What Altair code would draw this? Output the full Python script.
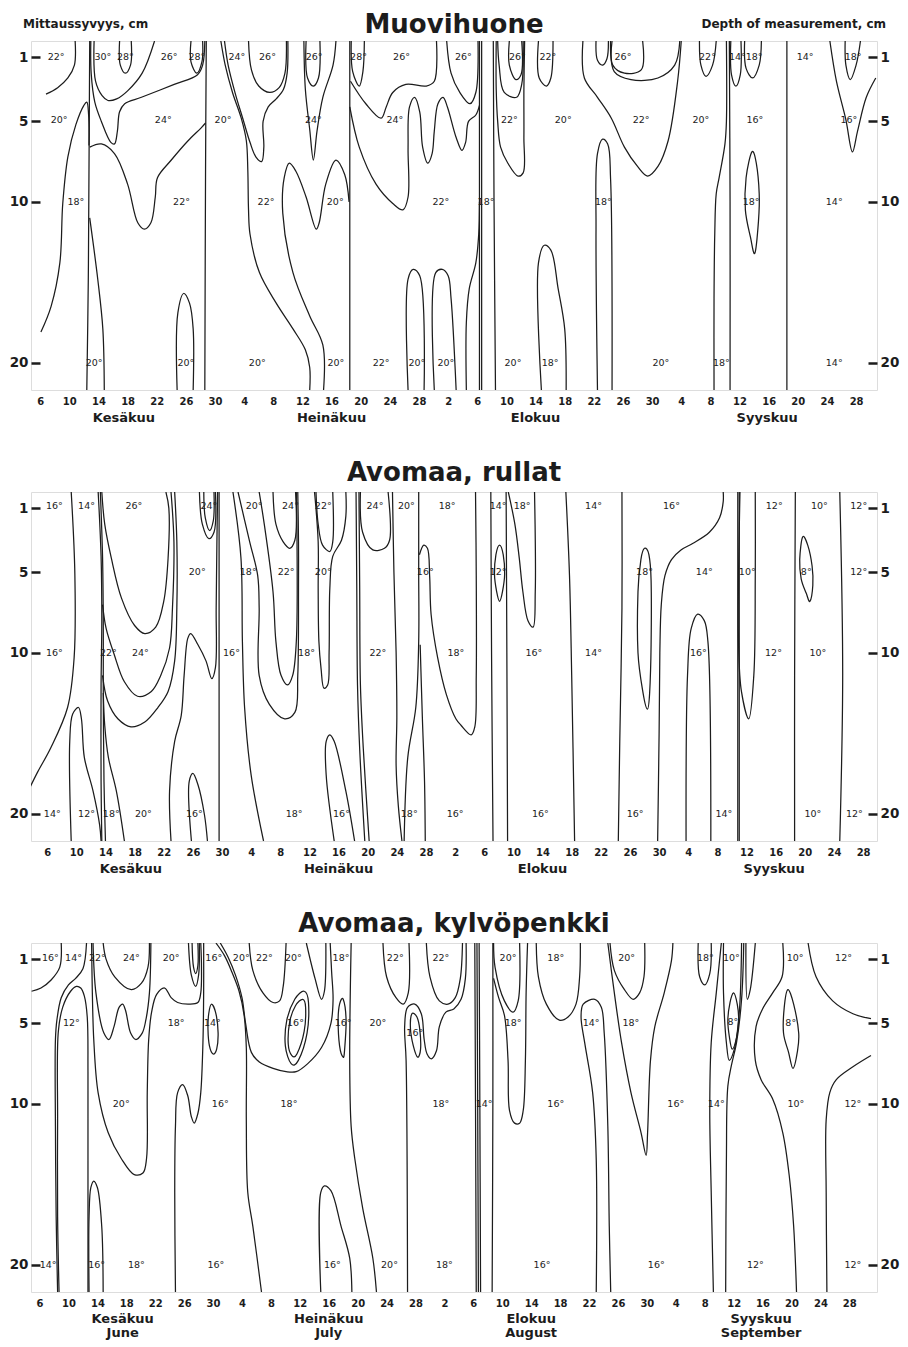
import altair as alt
import pandas as pd

# ---------------- axis tick data ----------------
X_TICK_POS = [6, 10, 14, 18, 22, 26, 30, 34, 38, 42, 46, 50, 54, 58, 62, 66, 70, 74, 78,
              82, 86, 90, 94, 98, 102, 106, 110, 114, 118]
X_TICK_LABELS = ["6", "10", "14", "18", "22", "26", "30", "4", "8", "12", "16", "20", "24", "28",
                 "2", "6", "10", "14", "18", "22", "26", "30", "4", "8", "12", "16", "20", "24", "28"]
DEPTH_TICKS = [1, 5, 10, 20]
MONTHS_FI = ["Kesäkuu", "Heinäkuu", "Elokuu", "Syyskuu"]
MONTHS_EN = ["June", "July", "August", "September"]
MONTH_POS = [17.5, 46.0, 74.0, 105.8]

# ---------------- Panel 1: Muovihuone ----------------
P1_TITLE = "Muovihuone"
P1_OPEN = [
    [(10.8, 0), (10.7, 1.5), (9.8, 2.3), (8.4, 2.9), (6.8, 3.3)],
    [(6.1, 18.1), (7.5, 16.5), (8.7, 13.8), (9.1, 10.1), (9.8, 7.2), (10.9, 5.2), (12.0, 4.0), (12.4, 3.8), (12.65, 4.6), (12.7, 6.5)],
    [(12.8, 0), (12.7, 8), (12.6, 15), (12.4, 21.7)],
    [(13.4, 0), (13.6, 2.5), (14.5, 3.4), (15.3, 3.7), (16.5, 3.6), (18.0, 3.1), (20.0, 2.0), (21.7, 0)],
    [(12.95, 0), (13.0, 2.0), (13.5, 3.8), (14.4, 5.0), (15.7, 6.3), (16.2, 6.4), (16.6, 5.6), (16.9, 4.4), (17.6, 3.9), (19.9, 3.5), (24.4, 2.7), (27.6, 2.1), (28.3, 1.5), (28.6, 0)],
    [(12.8, 6.6), (14.4, 6.4), (16.2, 7.0), (18.0, 8.9), (19.4, 11.3), (20.3, 11.7), (21.2, 11.3), (21.8, 9.7), (22.1, 8.5), (24.0, 7.4), (26.3, 6.2), (28.1, 5.4), (28.7, 5.1)],
    [(28.8, 0), (28.7, 8), (28.6, 21.7)],
    [(12.8, 11.0), (13.9, 14.8), (14.6, 17.9), (14.8, 21.7)],
    [(16.9, 0), (17.0, 1.5), (17.7, 2.0), (18.4, 1.5), (18.5, 0)],
    [(26.7, 0), (26.7, 1.3), (27.5, 2.0), (28.2, 1.3), (28.3, 0)],
    [(24.8, 21.7), (24.9, 16.9), (25.7, 15.7), (26.5, 16.3), (27.0, 17.9), (27.0, 21.7)],
    [(30.8, 0), (31.4, 1.5), (32.4, 3.2), (33.6, 4.8), (34.3, 6.2), (34.5, 8), (34.6, 10.5), (34.8, 12.0), (36.1, 14.4), (38.4, 16.3), (40.7, 17.9), (42.4, 19.2), (43.0, 20.3), (43.0, 21.7)],
    [(31.3, 0), (31.8, 1.5), (32.8, 3.3), (33.8, 4.8), (34.8, 6.3), (35.6, 7.2), (36.4, 7.5), (36.7, 6.6), (36.6, 5.0), (37.3, 4.1), (38.4, 3.6), (39.4, 3.0), (39.9, 2.0), (40.0, 0)],
    [(34.6, 0), (35.0, 1.8), (36.0, 2.8), (37.5, 3.2), (38.8, 2.9), (39.6, 2.0), (39.8, 0)],
    [(48.5, 0), (48.5, 10), (48.5, 21.7)],
    [(44.9, 21.7), (44.8, 18.9), (43.0, 17.1), (40.7, 14.4), (39.3, 10.7), (39.5, 8.5), (40.2, 7.6), (41.1, 8.1), (42.5, 9.7), (43.9, 11.7), (44.3, 11.3), (45.2, 8.9), (46.6, 7.4), (47.8, 8.3), (48.4, 10)],
    [(42.5, 0), (42.7, 2.3), (43.5, 2.8), (44.2, 2.3), (44.4, 0)],
    [(42.2, 0), (42.4, 3.0), (43.0, 5.5), (43.5, 7.4), (44.0, 5.6), (44.8, 3.5), (46.2, 1.5), (46.6, 0)],
    [(48.7, 0), (48.9, 1.9), (49.8, 2.8), (50.3, 1.9), (50.5, 0)],
    [(48.6, 2.5), (50.7, 3.9), (52.8, 4.8), (53.5, 4.1), (54.4, 3.2), (56.2, 2.7), (59.0, 2.8), (60.1, 2.5), (60.4, 0)],
    [(48.5, 4.1), (49.8, 6.6), (52.1, 8.9), (54.4, 10.1), (55.8, 10.5), (56.5, 9.7), (56.5, 6.6), (56.7, 4.1), (57.4, 3.5), (58.1, 4.4), (58.5, 6.6), (59.2, 7.6), (59.8, 7.0), (60.1, 5.6), (60.6, 3.9), (61.3, 3.5), (61.9, 4.1), (63.1, 6.0), (63.9, 6.8), (64.4, 6.3), (64.8, 5.0), (65.8, 4.6), (66.3, 4.0)],
    [(61.8, 0), (62.4, 2.0), (63.6, 3.2), (65.0, 3.9), (65.8, 3.2), (66.1, 0)],
    [(66.3, 0), (66.3, 10), (66.3, 21.7)],
    [(66.6, 0), (66.6, 10), (66.6, 21.7)],
    [(64.5, 21.7), (64.5, 17.5), (64.9, 15.4), (65.8, 13.8), (66.2, 12), (66.3, 10)],
    [(56.5, 21.7), (56.5, 14.8), (57.2, 14.2), (58.1, 14.6), (58.7, 21.7)],
    [(60.1, 21.7), (60.3, 14.4), (61.2, 14.2), (62.0, 14.6), (62.4, 16), (63.1, 21.7)],
    [(68.2, 0), (68.3, 10), (68.5, 21.7)],
    [(68.6, 0), (68.6, 3), (68.8, 5), (69.2, 6.6), (70.2, 7.6), (71.6, 8.4), (72.3, 8.2), (72.4, 6), (72.4, 3), (72.5, 0)],
    [(68.8, 0), (69.0, 1.5), (69.7, 3.2), (71.4, 3.5), (72.1, 2.7), (72.3, 0)],
    [(70.4, 0), (70.4, 1.5), (71.3, 2.4), (72.0, 2.1), (72.1, 0)],
    [(74.4, 0), (74.5, 2.3), (75.5, 2.8), (76.1, 2.3), (76.4, 0)],
    [(74.8, 21.7), (74.4, 13.8), (75.2, 12.7), (76.1, 13.0), (77.1, 15.4), (78.0, 17.9), (78.2, 21.7)],
    [(82.5, 21.7), (82.3, 11.7), (82.5, 7.0), (83.2, 6.1), (83.9, 6.4), (84.3, 8.6), (84.5, 21.7)],
    [(80.5, 0), (80.7, 2.3), (82.5, 3.5), (84.4, 4.8), (86.2, 6.6), (88.0, 7.8), (89.4, 8.4), (90.8, 7.8), (92.2, 6.2), (93.5, 2.5), (94.0, 0)],
    [(82.3, 0), (82.5, 1.2), (83.2, 1.5), (83.8, 1.1), (84.0, 0)],
    [(84.5, 0), (84.6, 1.5), (86.2, 2.0), (88.5, 1.8), (88.7, 0)],
    [(84.3, 0), (84.8, 1.9), (87.1, 2.4), (90.8, 2.3), (93.1, 1.5), (93.8, 0)],
    [(96.5, 0), (96.7, 1.5), (97.4, 2.2), (98.3, 1.5), (98.8, 0)],
    [(100.2, 0), (100.2, 5), (100.0, 6.4), (99.2, 8.5), (98.8, 9.5), (98.6, 12), (98.5, 16), (98.5, 21.7)],
    [(100.6, 0), (100.7, 10), (100.7, 21.7)],
    [(100.8, 0), (100.9, 2.1), (101.5, 2.8), (102.1, 2.1), (102.2, 0)],
    [(102.7, 0), (102.9, 1.7), (103.8, 2.3), (104.7, 1.5), (105.0, 0)],
    [(108.5, 0), (108.5, 21.7)],
    [(114.4, 0), (115.3, 2.5), (116.6, 4.9), (117.5, 6.9), (118.2, 5.6), (119.4, 3.5), (120.7, 2.3)],
    [(116.5, 0), (116.6, 1.5), (117.2, 2.4), (118.0, 1.5), (118.6, 0)],
]
P1_LOOPS = [
    [(103.7, 6.9), (104.3, 7.6), (104.7, 9.5), (104.6, 11.2), (104.1, 13.2), (103.5, 12.2), (102.8, 10.5), (102.9, 8.5)],
]
P1_LABELS = [
    (8.2, 1, "22°"), (14.6, 1, "30°"), (17.7, 1, "28°"), (23.7, 1, "26°"), (27.5, 1, "28°"), (33.0, 1, "24°"),
    (37.2, 1, "26°"), (43.6, 1, "26°"), (49.7, 1, "28°"), (55.6, 1, "26°"), (64.1, 1, "26°"), (71.5, 1, "26°"),
    (75.7, 1, "22°"), (86.0, 1, "26°"), (97.6, 1, "22°"), (101.7, 1, "14°"), (104.0, 1, "18°"), (111.0, 1, "14°"),
    (117.6, 1, "18°"),
    (8.6, 4.9, "20°"), (22.9, 4.9, "24°"), (31.1, 4.9, "20°"), (43.5, 4.9, "24°"), (54.7, 4.9, "24°"),
    (70.4, 4.9, "22°"), (77.8, 4.9, "20°"), (88.5, 4.9, "22°"), (96.7, 4.9, "20°"), (104.1, 4.9, "16°"),
    (117.0, 4.9, "16°"),
    (10.9, 10, "18°"), (25.4, 10, "22°"), (37.0, 10, "22°"), (46.5, 10, "20°"), (61.0, 10, "22°"),
    (67.2, 10, "18°"), (83.3, 10, "18°"), (103.6, 10, "18°"), (115.0, 10, "14°"),
    (13.4, 20, "20°"), (26.0, 20, "20°"), (35.8, 20, "20°"), (46.6, 20, "20°"), (52.8, 20, "22°"),
    (57.7, 20, "20°"), (61.7, 20, "20°"), (70.9, 20, "20°"), (76.0, 20, "18°"), (91.2, 20, "20°"),
    (99.5, 20, "18°"), (115.0, 20, "14°"),
]

# ---------------- Panel 2: Avomaa, rullat ----------------
P2_TITLE = "Avomaa, rullat"
P2_OPEN = [
    [(9.3, 0), (9.8, 5.1), (9.7, 10.3), (8.8, 13.4), (6.5, 15.9), (4.7, 17.4), (3.6, 18.4)],
    [(9.3, 21.7), (9.1, 15.5), (9.5, 13.8), (10.3, 13.4), (10.7, 14.1), (11.1, 16.5), (12.3, 18.6), (13.2, 20.7), (13.4, 21.7)],
    [(13.0, 0), (13.4, 4), (13.5, 8), (13.4, 12), (13.4, 18), (13.5, 21.7)],
    [(13.3, 0), (13.6, 4), (13.7, 8), (13.7, 12), (13.8, 18), (14.0, 21.7)],
    [(13.5, 0), (13.9, 2.0), (14.8, 4.1), (16.2, 6.6), (18.0, 8.3), (19.4, 8.8), (20.9, 8.4), (22.0, 6.8), (22.6, 4.1), (22.7, 1.0), (22.3, 0)],
    [(13.6, 7.0), (14.1, 8.5), (15.2, 10.1), (16.6, 11.8), (18.4, 12.7), (20.3, 12.4), (21.6, 11.4), (22.8, 9.7), (23.2, 7.2), (23.4, 3.1), (23.0, 0)],
    [(13.6, 11.4), (14.3, 13.0), (15.7, 14.1), (17.5, 14.6), (19.4, 14.3), (21.2, 13.4), (22.6, 12.4), (23.5, 10.5), (23.8, 7.2), (23.8, 3.1), (23.5, 0)],
    [(13.7, 12.5), (13.9, 14.5), (14.4, 16.5), (15.5, 18.6), (16.6, 21.7)],
    [(23.0, 21.7), (22.8, 18.6), (23.5, 15.5), (24.4, 13.9), (24.8, 11.4), (25.3, 9.1), (25.7, 8.8), (26.7, 9.5), (27.8, 10.5), (28.6, 11.6), (29.1, 10.9), (29.2, 7.2), (29.3, 3.1), (29.4, 0)],
    [(25.8, 21.7), (25.5, 18), (26.0, 17.5), (26.7, 18.2), (27.6, 20.1), (28.0, 21.7)],
    [(26.9, 0), (27.3, 2.0), (28.2, 2.9), (28.9, 2.5), (29.1, 0)],
    [(27.5, 0), (27.7, 1.6), (28.3, 2.4), (28.8, 1.8), (28.9, 0)],
    [(29.6, 0), (29.6, 10), (29.6, 21.7)],
    [(31.5, 0), (32.6, 4.1), (32.8, 9.3), (33.1, 13.4), (34.0, 17.6), (35.7, 21.7)],
    [(32.2, 0), (33.8, 3.1), (34.9, 5.2), (35.1, 7.2), (35.1, 11.4), (36.5, 13.2), (38.6, 14.1), (40.0, 13.7), (40.4, 11.4), (40.5, 6), (40.5, 3.1), (40.4, 0)],
    [(35.1, 0), (35.8, 2.0), (37.0, 6.2), (37.4, 9.3), (38.1, 11.4), (39.0, 12.0), (39.7, 11.4), (40.2, 9.3), (40.3, 3.1), (40.2, 0)],
    [(37.0, 0), (37.4, 2.0), (38.4, 3.1), (39.3, 3.5), (40.0, 3.0), (40.1, 0)],
    [(42.7, 0), (43.2, 3.1), (43.2, 6), (43.3, 9.3), (43.6, 11), (44.0, 12.2), (44.5, 12.0), (44.7, 10), (44.8, 6), (45.2, 4.0), (46.4, 3.0), (47.0, 1.5), (47.0, 0)],
    [(42.9, 0), (43.2, 2.0), (43.8, 3.3), (44.8, 3.7), (45.2, 3.1), (45.2, 0)],
    [(45.4, 21.7), (44.3, 17.6), (44.3, 15.5), (44.8, 15.1), (45.4, 15.5), (47.0, 18.6), (48.2, 21.7)],
    [(48.4, 0), (48.5, 6), (48.6, 12), (48.9, 16), (49.6, 21.7)],
    [(48.8, 0), (48.9, 6), (49.0, 12), (49.4, 16), (50.2, 21.7)],
    [(49.0, 0), (49.3, 2.5), (50.7, 3.6), (52.3, 3.5), (53.0, 3.0), (52.8, 0)],
    [(53.4, 0), (53.6, 5), (53.9, 10), (54.0, 14), (53.9, 17), (54.2, 19.5), (54.7, 21.7)],
    [(57.0, 0), (57.0, 5), (57.0, 9.3), (56.6, 13.4), (55.5, 16.5), (55.0, 21.7)],
    [(57.1, 3.9), (57.7, 3.3), (58.2, 3.5), (58.5, 5.2), (58.7, 7.6), (59.6, 10.3), (60.8, 12.6), (62.1, 14.1), (62.8, 14.5), (64.2, 15.1), (64.7, 14.6), (64.9, 11.4), (64.9, 5.2), (64.8, 0)],
    [(57.2, 9.5), (57.5, 14), (57.8, 18), (57.9, 21.7)],
    [(66.9, 0), (67.0, 10), (67.2, 21.7)],
    [(69.0, 0), (69.1, 10), (69.2, 21.7)],
    [(69.3, 0), (70.2, 2.0), (70.8, 4.1), (71.3, 6.2), (72.0, 8.0), (72.7, 8.4), (73.0, 6.2), (72.9, 0)],
    [(77.2, 0), (77.7, 5.2), (78.0, 11.4), (78.4, 21.7)],
    [(84.9, 0), (84.9, 7.2), (84.6, 15.5), (84.4, 21.7)],
    [(89.8, 21.7), (90.0, 15), (90.1, 10), (90.3, 7.0), (90.8, 5.2), (91.7, 4.2), (93.0, 3.6), (94.6, 3.2), (96.9, 2.5), (98.3, 1.6), (98.8, 0.6), (98.8, 0)],
    [(93.7, 21.7), (93.9, 11.4), (94.4, 8.5), (95.3, 7.6), (96.2, 8.0), (96.7, 9.3), (97.1, 21.7)],
    [(100.8, 0), (100.8, 21.7)],
    [(101.0, 0), (101.0, 21.7)],
    [(101.1, 0), (100.9, 9.3), (101.3, 12.4), (102.3, 14.1), (103.0, 11.4), (103.2, 5.2), (103.2, 0)],
    [(108.7, 0), (108.6, 11.4), (108.6, 21.7)],
    [(114.8, 0), (115.2, 11.4), (114.8, 21.7)],
]
P2_LOOPS = [
    [(68.1, 3.3), (68.6, 3.9), (68.8, 5.1), (68.5, 6.2), (68.1, 6.8), (67.7, 6.2), (67.4, 5.1), (67.6, 3.9)],
    [(88.0, 3.5), (88.6, 3.9), (88.9, 5.5), (88.9, 9.5), (88.7, 12.5), (88.4, 13.5), (87.8, 12.5), (87.1, 10), (87.1, 6.2), (87.5, 4.2)],
    [(109.7, 2.8), (110.4, 3.3), (111.0, 4.6), (111.1, 5.8), (110.7, 6.8), (110.2, 6.3), (109.5, 5.4), (109.3, 4.2)],
]
P2_LABELS = [
    (7.0, 0.9, "16°"), (11.4, 0.9, "14°"), (17.9, 0.9, "26°"), (28.2, 0.9, "24°"), (34.4, 0.9, "20°"),
    (39.4, 0.9, "24°"), (43.9, 0.9, "22°"), (51.0, 0.9, "24°"), (55.3, 0.9, "20°"), (60.9, 0.9, "18°"),
    (67.9, 0.9, "14°"), (71.2, 0.9, "18°"), (81.0, 0.9, "14°"), (91.7, 0.9, "16°"), (105.8, 0.9, "12°"),
    (112.0, 0.9, "10°"), (117.4, 0.9, "12°"),
    (26.6, 5, "20°"), (33.6, 5, "18°"), (38.8, 5, "22°"), (43.9, 5, "20°"), (57.9, 5, "16°"), (67.9, 5, "12°"),
    (88.0, 5, "18°"), (96.2, 5, "14°"), (102.1, 5, "10°"), (110.2, 5, "8°"), (117.4, 5, "12°"),
    (7.0, 10, "16°"), (14.4, 10, "22°"), (18.8, 10, "24°"), (31.3, 10, "16°"), (41.6, 10, "18°"),
    (51.4, 10, "22°"), (62.1, 10, "18°"), (72.8, 10, "16°"), (81.0, 10, "14°"), (95.4, 10, "16°"),
    (105.7, 10, "12°"), (111.8, 10, "10°"),
    (6.7, 20, "14°"), (11.4, 20, "12°"), (14.8, 20, "18°"), (19.2, 20, "20°"), (26.2, 20, "16°"),
    (39.9, 20, "18°"), (46.4, 20, "16°"), (55.7, 20, "18°"), (62.0, 20, "16°"), (73.7, 20, "16°"),
    (86.7, 20, "16°"), (98.9, 20, "14°"), (111.1, 20, "10°"), (116.8, 20, "12°"),
]

# ---------------- Panel 3: Avomaa, kylvöpenkki ----------------
P3_TITLE = "Avomaa, kylvöpenkki"
P3_OPEN = [
    [(9.0, 0), (8.8, 1.5), (7.6, 2.3), (6.2, 2.8), (4.9, 3.0)],
    [(12.5, 0), (12.0, 1.6), (11.0, 2.2), (10.0, 2.6), (9.0, 3.4), (8.4, 4.8), (8.2, 6), (8.2, 11.4), (8.3, 17), (8.5, 21.7)],
    [(8.7, 21.7), (8.5, 17), (8.5, 11), (8.6, 5.5), (9.2, 4.0), (10.3, 3.0), (11.1, 2.7), (11.7, 2.8), (12.2, 3.3), (12.6, 4.6), (12.7, 8), (12.7, 14), (12.7, 21.7)],
    [(12.85, 21.7), (12.85, 17), (13.1, 15.2), (13.5, 14.8), (14.0, 15.2), (14.6, 17.6), (14.8, 21.7)],
    [(13.2, 0), (13.3, 3), (13.5, 6), (14.1, 9.3), (15.5, 11.8), (17.3, 13.4), (19.1, 14.4), (20.3, 14.3), (20.8, 13.4), (20.9, 9.3), (21.1, 6.0), (21.5, 4.3), (22.2, 3.2), (23.3, 2.8), (24.2, 3.4), (25.1, 3.7), (26.7, 3.8), (27.9, 3.7), (28.3, 3.1), (28.4, 1.5), (28.3, 0)],
    [(13.4, 0), (13.8, 3.1), (14.9, 5.6), (15.6, 6.0), (16.3, 5.2), (17.0, 4.0), (17.5, 3.8), (17.9, 4.2), (18.6, 5.6), (19.3, 6.0), (20.2, 5.6), (20.7, 4.8), (21.2, 3.1), (21.4, 0)],
    [(14.8, 0), (15.2, 1.0), (16.4, 2.1), (18.7, 2.9), (20.1, 2.5), (21.0, 1.5), (21.2, 0)],
    [(26.6, 0), (27.0, 2.0), (27.6, 2.7), (28.0, 2.0), (28.1, 0)],
    [(27.1, 0), (27.3, 1.5), (27.6, 1.9), (27.9, 1.4), (27.9, 0)],
    [(28.7, 0), (28.7, 3.1), (28.6, 6.2), (28.3, 9.3), (27.9, 10.6), (27.4, 11.2), (27.0, 10.8), (26.5, 9.5), (25.8, 8.8), (25.1, 9.3), (24.8, 11.4), (24.7, 15.5), (24.8, 21.7)],
    [(30.4, 0), (31.6, 0.8), (32.6, 1.8), (33.6, 3.0), (34.3, 4.5), (34.6, 6.5), (34.6, 11), (34.8, 15.5), (35.5, 17.6), (36.7, 21.7)],
    [(31.0, 0), (32.1, 0.9), (33.1, 2.0), (34.0, 3.4), (34.5, 5.0), (35.3, 6.8), (36.4, 7.4), (38.3, 7.8), (40.1, 8.0), (41.5, 8.0), (43.1, 7.5), (45.0, 6.5), (46.3, 5.0), (46.6, 3.5), (46.4, 1.8), (46.2, 0)],
    [(35.0, 0), (35.5, 1.7), (36.9, 3.1), (38.3, 3.7), (39.2, 3.6), (39.7, 2.7), (40.1, 0)],
    [(42.9, 0), (44.1, 2.2), (45.0, 3.5), (45.4, 3.0), (45.6, 0)],
    [(49.1, 0), (48.9, 7.3), (49.1, 11.4), (49.6, 13.4), (50.7, 16.5), (52.1, 19.6), (52.6, 21.7)],
    [(44.9, 21.7), (44.9, 15.5), (45.4, 15.1), (46.3, 15.4), (47.7, 17.6), (48.9, 19.6), (49.2, 21.7)],
    [(53.5, 0), (54.0, 2.1), (55.3, 3.4), (56.3, 3.8), (57.0, 3.1), (57.1, 0)],
    [(56.9, 21.7), (56.7, 7.3), (56.5, 5.2), (56.9, 4.0), (57.9, 3.8), (58.8, 4.4), (59.2, 6.0), (59.6, 6.9), (60.2, 7.2), (60.9, 6.7), (61.3, 5.2), (62.2, 4.3), (63.3, 4.1), (64.3, 3.5), (64.9, 2.2), (65.0, 0)],
    [(59.5, 0), (60.0, 2.1), (61.3, 3.6), (62.5, 3.8), (63.5, 3.4), (64.2, 2.2), (64.5, 0)],
    [(66.2, 0), (66.3, 10), (66.4, 21.7)],
    [(66.5, 0), (66.6, 10), (66.7, 21.7)],
    [(66.8, 0), (66.9, 10), (67.0, 21.7)],
    [(68.7, 0), (68.7, 10), (68.6, 21.7)],
    [(68.8, 0), (69.0, 1.5), (70.3, 3.6), (71.5, 4.3), (72.2, 3.6), (72.4, 0)],
    [(68.8, 2.2), (69.5, 3.4), (70.3, 4.5), (70.8, 7.3), (71.0, 10.4), (71.7, 11.2), (72.4, 11.2), (72.9, 10.4), (73.2, 7.3), (73.3, 3.1), (73.5, 0)],
    [(74.7, 0), (75.0, 2.1), (76.1, 3.8), (77.9, 4.8), (79.1, 4.6), (80.2, 3.8), (80.7, 2.1), (80.8, 0)],
    [(83.0, 21.7), (83.0, 13.5), (82.5, 9.3), (81.4, 6.2), (80.9, 4.6), (81.2, 3.8), (82.8, 3.5), (83.7, 4.0), (84.1, 5.6), (84.6, 11.4), (84.8, 17.6), (85.0, 21.7)],
    [(84.9, 0), (85.5, 1.7), (86.9, 2.9), (88.1, 3.5), (89.0, 3.1), (89.6, 2.1), (89.7, 0)],
    [(84.6, 0), (85.5, 3.1), (86.5, 6.2), (87.8, 9.3), (89.2, 11.8), (89.9, 13.2), (90.1, 11.8), (90.5, 7.3), (91.1, 5.2), (92.4, 3.1), (93.4, 1.1), (93.6, 0)],
    [(97.1, 0), (97.3, 2.1), (98.0, 2.6), (98.7, 1.9), (98.9, 0)],
    [(99.2, 21.7), (98.9, 15.5), (98.7, 10.4), (98.9, 6.2), (99.6, 3.1), (100.3, 0)],
    [(100.6, 0), (100.6, 3.1), (101.0, 6.2), (101.4, 7.3), (102.1, 6.6), (102.8, 4.2), (103.1, 0)],
    [(100.9, 21.7), (101.0, 13.5), (101.2, 8.9), (101.7, 7.6), (102.4, 6.2), (103.1, 3.5), (103.4, 0)],
    [(103.7, 0), (103.9, 3.5), (104.3, 2.9), (105.0, 0)],
    [(108.8, 0), (108.7, 2.1), (107.4, 3.1), (106.0, 4.1), (105.1, 5.2), (105.0, 7.3), (105.8, 8.5), (107.4, 9.7), (108.8, 11.8), (109.7, 14.5), (110.3, 17.6), (110.7, 21.7)],
    [(112.3, 0), (113.4, 2.1), (115.7, 3.6), (118.5, 4.4), (121.0, 4.7)],
    [(121.0, 7.0), (118.5, 7.7), (116.2, 8.5), (115.3, 9.3), (114.8, 11.0), (114.8, 15.5), (114.9, 21.7)],
]
P3_LOOPS = [
    [(29.8, 3.8), (30.4, 4.4), (30.7, 5.6), (30.5, 6.6), (30.0, 6.9), (29.5, 6.4), (29.3, 5.4), (29.4, 4.4)],
    [(42.6, 3.0), (43.2, 3.7), (43.0, 5.6), (41.8, 7.3), (40.8, 7.5), (40.0, 6.4), (40.2, 4.8), (41.3, 3.5)],
    [(42.4, 3.5), (42.8, 4.0), (42.6, 5.5), (41.6, 6.9), (40.9, 7.0), (40.4, 6.3), (40.6, 4.9), (41.4, 3.9)],
    [(48.0, 3.5), (48.4, 4.8), (48.2, 6.6), (48.0, 7.1), (47.5, 6.4), (47.3, 4.8), (47.5, 3.8)],
    [(57.5, 4.4), (58.2, 4.6), (58.6, 5.4), (58.7, 6.6), (58.3, 7.1), (57.7, 6.4), (57.3, 5.3)],
    [(102.0, 3.1), (102.5, 3.8), (102.7, 4.8), (102.4, 5.9), (101.8, 6.6), (101.4, 5.8), (101.2, 4.8), (101.5, 3.7)],
    [(109.5, 2.9), (110.3, 3.8), (111.0, 5.6), (110.8, 6.8), (110.2, 7.8), (109.6, 6.8), (108.9, 5.6), (109.0, 4.0)],
]
P3_LABELS = [
    (7.5, 0.92, "16°"), (10.7, 0.92, "14°"), (14.0, 0.92, "22°"), (18.7, 0.92, "24°"), (24.2, 0.92, "20°"),
    (30.1, 0.92, "16°"), (33.9, 0.92, "20°"), (37.1, 0.92, "22°"), (41.1, 0.92, "20°"), (47.7, 0.92, "18°"),
    (55.2, 0.92, "22°"), (61.5, 0.92, "22°"), (70.8, 0.92, "20°"), (77.4, 0.92, "18°"), (87.2, 0.92, "20°"),
    (98.1, 0.92, "18°"), (101.7, 0.92, "10°"), (110.5, 0.92, "10°"), (117.2, 0.92, "12°"),
    (10.4, 5, "12°"), (24.9, 5, "18°"), (29.9, 5, "14°"), (41.4, 5, "16°"), (48.0, 5, "16°"), (52.8, 5, "20°"),
    (57.9, 5.6, "16°"), (71.5, 5, "18°"), (82.3, 5, "14°"), (87.8, 5, "18°"), (101.9, 4.9, "8°"), (109.9, 5, "8°"),
    (17.3, 10, "20°"), (31.0, 10, "16°"), (40.5, 10, "18°"), (61.5, 10, "18°"), (67.5, 10, "14°"),
    (77.4, 10, "16°"), (94.0, 10, "16°"), (99.6, 10, "14°"), (110.6, 10, "10°"), (118.5, 10, "12°"),
    (7.2, 20, "14°"), (13.9, 20, "16°"), (19.4, 20, "18°"), (30.4, 20, "16°"), (46.5, 20, "16°"),
    (54.4, 20, "20°"), (62.0, 20, "18°"), (75.5, 20, "16°"), (91.3, 20, "16°"), (105.0, 20, "12°"),
    (118.5, 20, "12°"),
]

CORNER_LEFT = "Mittaussyvyys, cm"
CORNER_RIGHT = "Depth of measurement, cm"

# ---------------- layout / style ----------------
H = 349
W = 846
DEPTH_DOMAIN = [0, 21.7]
INK = "#1c1c1c"
FONT = "DejaVu Sans"
MONTH_FS = 13

LABEL_EXPR = "[" + ",".join("'%s'" % s for s in X_TICK_LABELS) + "][round((datum.value - 6) / 4)]"


def lines_frame(lines, prefix):
    rows = []
    for k, pts in enumerate(lines):
        for i, (x, d) in enumerate(pts):
            rows.append({"x": x, "d": d, "lid": "%s%d" % (prefix, k), "i": i})
    return pd.DataFrame(rows)


def y_axis(orient):
    return alt.Axis(values=DEPTH_TICKS, orient=orient, offset=-9, tickSize=9, tickWidth=2.5,
                    tickColor=INK, domain=False, grid=False, labelFont=FONT, labelFontWeight="bold",
                    labelFontSize=13.5, labelColor=INK, labelPadding=3, title=None)


def panel(title, open_lines, loops, labels, xdom, title_offset=6, english=False, corners=False):
    xs = alt.Scale(domain=xdom, nice=False, zero=False)
    ys = alt.Scale(domain=DEPTH_DOMAIN, reverse=True, nice=False, zero=False)
    x_axis = alt.Axis(values=X_TICK_POS, labelExpr=LABEL_EXPR, ticks=False, domain=False, grid=False,
                      labelFont=FONT, labelFontWeight="bold", labelFontSize=10, labelColor=INK,
                      labelPadding=6, labelOverlap=False, labelFlush=False, title=None)
    X = alt.X("x:Q", scale=xs, axis=x_axis)

    open_chart = alt.Chart(lines_frame(open_lines, "o")).mark_line(
        interpolate="catmull-rom", clip=True, color=INK, strokeWidth=1.25
    ).encode(
        x=X, y=alt.Y("d:Q", scale=ys, axis=y_axis("left")),
        detail="lid:N", order="i:Q",
    )
    loop_chart = alt.Chart(lines_frame(loops, "c")).mark_line(
        interpolate="cardinal-closed", clip=True, color=INK, strokeWidth=1.25
    ).encode(
        x=X, y=alt.Y("d:Q", scale=ys, axis=None),
        detail="lid:N", order="i:Q",
    )
    lab_df = pd.DataFrame(labels, columns=["x", "d", "t"])
    text_chart = alt.Chart(lab_df).mark_text(
        font=FONT, fontSize=9.5, color=INK, align="center", baseline="middle"
    ).encode(
        x=X, y=alt.Y("d:Q", scale=ys, axis=y_axis("right")),
        text="t:N",
    )
    mdf = pd.DataFrame({"x": MONTH_POS, "fi": MONTHS_FI, "en": MONTHS_EN})
    fi_off = 27 if english else 28
    month_chart = alt.Chart(mdf).mark_text(
        font=FONT, fontSize=MONTH_FS, fontWeight="bold", color=INK, align="center", baseline="middle"
    ).encode(x=X, y=alt.value(H + fi_off), text="fi:N")
    layers = [open_chart, loop_chart, text_chart, month_chart]
    if english:
        layers.append(alt.Chart(mdf).mark_text(
            font=FONT, fontSize=MONTH_FS, fontWeight="bold", color=INK, align="center", baseline="middle"
        ).encode(x=X, y=alt.value(H + 41), text="en:N"))
    if corners:
        cdf = pd.DataFrame({"t": [CORNER_LEFT]})
        layers.append(alt.Chart(cdf).mark_text(
            font=FONT, fontSize=12, fontWeight="bold", color=INK, align="left", baseline="middle"
        ).encode(x=alt.value(-8), y=alt.value(-17), text="t:N"))
        cdf2 = pd.DataFrame({"t": [CORNER_RIGHT]})
        layers.append(alt.Chart(cdf2).mark_text(
            font=FONT, fontSize=12, fontWeight="bold", color=INK, align="right", baseline="middle"
        ).encode(x=alt.value(W + 9), y=alt.value(-17), text="t:N"))
    return alt.layer(*layers).resolve_scale(y="independent").properties(
        width=W, height=H,
        title=alt.TitleParams(text=title, font=FONT, fontSize=26, fontWeight="bold", color=INK,
                              anchor="middle", offset=title_offset),
    )


p1 = panel(P1_TITLE, P1_OPEN, P1_LOOPS, P1_LABELS, [4.74, 120.87], title_offset=-20, corners=True)
p2 = panel(P2_TITLE, P2_OPEN, P2_LOOPS, P2_LABELS, [3.78, 119.91])
p3 = panel(P3_TITLE, P3_OPEN, P3_LOOPS, P3_LABELS, [4.82, 121.83], english=True)

chart = alt.vconcat(p1, p2, p3, spacing=33).properties(
    padding={"left": 0, "top": 3, "right": 0, "bottom": 0}
).configure_view(stroke=INK, strokeWidth=2).configure(background="white")

chart.save("out.html", embed_options={"renderer": "svg", "actions": False})
